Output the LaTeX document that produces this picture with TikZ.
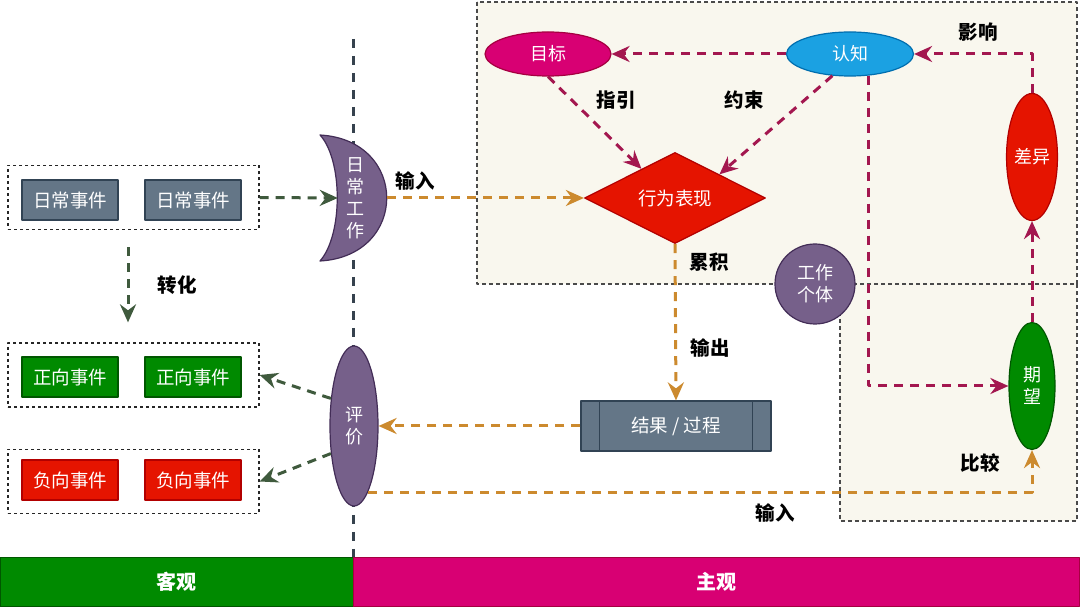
\documentclass[tikz,border=0pt]{standalone}
\usepackage{xcolor}
\usepackage{fontspec}
\usepackage{tikz}
\usetikzlibrary{shapes, arrows.meta, positioning}
\setmainfont{Noto Sans CJK SC}

\definecolor{slatefill}{HTML}{647687}
\definecolor{slateline}{HTML}{314354}
\definecolor{greenfill}{HTML}{008A00}
\definecolor{greenline}{HTML}{005700}
\definecolor{redfill}{HTML}{E51400}
\definecolor{redline}{HTML}{B20000}
\definecolor{magfill}{HTML}{D80073}
\definecolor{magline}{HTML}{A50040}
\definecolor{bluefill}{HTML}{1BA1E2}
\definecolor{blueline}{HTML}{006EAF}
\definecolor{violetfill}{HTML}{76608A}
\definecolor{violetline}{HTML}{432D57}
\definecolor{arrgreen}{HTML}{3F5A3D}
\definecolor{arrorange}{HTML}{CC8A2E}
\definecolor{arrmaroon}{HTML}{A3174F}
\definecolor{midline}{HTML}{36424E}
\definecolor{regionfill}{HTML}{F9F7EE}
\definecolor{regionline}{HTML}{4A4A4A}

\begin{document}
\begin{tikzpicture}[x=1pt, y=-1pt, line join=round,
    >={Stealth[length=18pt, width=16pt, inset=6pt]},
    evtbox/.style={rectangle, minimum width=96pt, minimum height=40pt, inner sep=0pt,
      line width=1.2pt, text=white, font=\fontsize{18.5}{21}\selectfont},
    grp/.style={rectangle, draw=black!85, dashed, line width=1.3pt,
      minimum width=251pt, minimum height=64pt, inner sep=0pt},
    oval/.style={ellipse, inner sep=0pt, line width=1.2pt, text=white, align=center,
      font=\fontsize{18}{22}\selectfont},
    lbl/.style={font=\fontsize{19.5}{22}\selectfont\bfseries, text=black},
    bar/.style={rectangle, minimum height=48pt, inner sep=0pt, line width=1pt,
      text=white, font=\fontsize{20}{22}\selectfont\bfseries},
    region/.style={fill=regionfill, draw=regionline, line width=1.1pt, dash pattern=on 4pt off 3pt},
    flow/.style={->, line width=3pt, dash pattern=on 9pt off 7pt},
    greenflow/.style={flow, draw=arrgreen},
    orangeflow/.style={flow, draw=arrorange},
    maroonflow/.style={flow, draw=arrmaroon}]

		% Canvas
		\fill[white] (0,0) rectangle (1080,609);
		\useasboundingbox (0,0) rectangle (1080,609);

		% Subjective regions
		\draw[region] (477,2) rectangle (1077,284);
		\draw[region] (840,284) rectangle (1077,521);

		% Divider between objective and subjective
		\draw[midline, line width=3pt, dash pattern=on 9pt off 8pt] (353,39) -- (353,558);

		% Event groups
		\node (dailygrp) [grp] at (133.5,197.5) {};
		\node (daily1) [evtbox, fill=slatefill, draw=slateline] at (70,200) {日常事件};
		\node (daily2) [evtbox, fill=slatefill, draw=slateline] at (193,200) {日常事件};

		\node (posgrp) [grp] at (133.5,375) {};
		\node (pos1) [evtbox, fill=greenfill, draw=greenline] at (70,377) {正向事件};
		\node (pos2) [evtbox, fill=greenfill, draw=greenline] at (193,377) {正向事件};

		\node (neggrp) [grp] at (133.5,481.5) {};
		\node (neg1) [evtbox, fill=redfill, draw=redline] at (70,480) {负向事件};
		\node (neg2) [evtbox, fill=redfill, draw=redline] at (193,480) {负向事件};

		% Daily work (moon)
		\filldraw[fill=violetfill, draw=violetline, line width=1.2pt]
			(320,135) .. controls (409,140) and (409,256) .. (320,261)
			.. controls (343,235) and (343,160) .. (320,135) -- cycle;
		\node (work) [inner sep=0pt, minimum width=34pt, align=center, text=white,
			font=\fontsize{18}{22}\selectfont] at (355,198) {日\\常\\工\\作};
		\coordinate (workout) at (387,198);

		% Evaluation
		\node (pingjia) [oval, fill=violetfill, draw=violetline, minimum width=48pt, minimum height=160pt]
			at (354,426) {评\\价};

		% Behaviour
		\node (xingwei) [diamond, fill=redfill, draw=redline, line width=1.2pt, inner sep=0pt,
			minimum width=181pt, minimum height=87pt, text=white, font=\fontsize{18.5}{21}\selectfont]
			at (675,198) {行为表现};

		\node (mubiao) [oval, fill=magfill, draw=magline, minimum width=126pt, minimum height=44pt]
			at (548,54) {目标};
		\node (renzhi) [oval, fill=bluefill, draw=blueline, minimum width=127pt, minimum height=44pt]
			at (850,54) {认知};
		\node (chayi) [oval, fill=redfill, draw=redline, minimum width=46pt, minimum height=127pt]
			at (1032,157) {差异};
		\node (qiwang) [oval, fill=greenfill, draw=greenline, minimum width=46pt, minimum height=127pt]
			at (1032,386) {期\\望};
		\node (worker) [circle, fill=violetfill, draw=violetline, line width=1.2pt, minimum size=80pt,
			inner sep=0pt, align=center, text=white, font=\fontsize{18}{22}\selectfont]
			at (815,284) {工作\\个体};

		% Result / process
		\node (result) [rectangle, fill=slatefill, draw=slateline, line width=1.2pt, minimum width=190pt,
			minimum height=50pt, text=white, font=\fontsize{18.5}{21}\selectfont] at (676,426) {结果 / 过程};
		\draw[slateline, line width=1.2pt] ([xshift=19pt]result.north west) -- ([xshift=19pt]result.south west);
		\draw[slateline, line width=1.2pt] ([xshift=-19pt]result.north east) -- ([xshift=-19pt]result.south east);

		% Bottom bars
		\node (objbar) [bar, fill=greenfill, draw=greenline, minimum width=353pt] at (176.5,582) {客观};
		\node (subjbar) [bar, fill=magfill, draw=magline, minimum width=726pt] at (716,582) {主观};

		% Objective flows
		\draw[greenflow] (dailygrp.east) -- (work.west);
		\draw[greenflow, shorten <=17pt, shorten >=20pt] ([xshift=-5.5pt]dailygrp.south) -- ([xshift=-5.5pt]posgrp.north);
		\draw[greenflow] (pingjia.130) -- (posgrp.east);
		\draw[greenflow] (pingjia.230) -- (neggrp.east);

		% Input / output flows
		\draw[orangeflow] (workout) -- (xingwei.west);
		\draw[orangeflow] (xingwei.south) -- (result.north);
		\draw[orangeflow] (result.west) -- (pingjia.east);
		\draw[orangeflow] (pingjia.-78) -| (qiwang.south);

		% Cognition loop
		\draw[maroonflow] (renzhi.west) -- (mubiao.east);
		\draw[maroonflow] (mubiao.south) -- (xingwei.139);
		\draw[maroonflow] (renzhi.231) -- (xingwei.28);
		\draw[maroonflow] (renzhi.-49) |- (qiwang.west);
		\draw[maroonflow] (chayi.north) |- (renzhi.east);
		\draw[maroonflow] (qiwang.north) -- (chayi.south);

		% Labels
		\node (inlbl) [lbl] at (415,181) {输入};
		\node (convlbl) [lbl] at (177,285) {转化};
		\node (guidelbl) [lbl] at (616,100) {指引};
		\node (limitlbl) [lbl] at (744,100) {约束};
		\node (afflbl) [lbl] at (978,32) {影响};
		\node (acclbl) [lbl] at (709,262) {累积};
		\node (outlbl) [lbl] at (710,348) {输出};
		\node (cmplbl) [lbl] at (980,463) {比较};
		\node (in2lbl) [lbl] at (775,513) {输入};

	\end{tikzpicture}
\end{document}
